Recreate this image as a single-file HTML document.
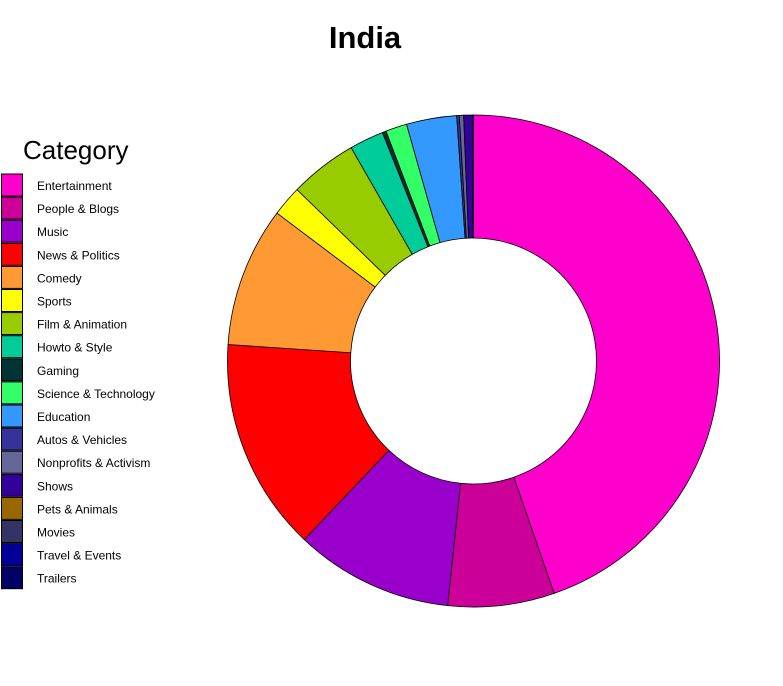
<!DOCTYPE html>
<html><head><meta charset="utf-8"><style>
body{margin:0;background:#fff;font-family:"Liberation Sans",sans-serif;}
#wrap{position:relative;width:783px;height:686px;overflow:hidden;}
</style></head><body>
<div id="wrap">
<svg id="svg" width="783" height="686">
<text x="365" y="48" text-anchor="middle" font-size="31" font-weight="bold" fill="#000">India</text>
<text x="23" y="159" font-size="26" fill="#000">Category</text>
<g id="slices"></g>
<g id="legend"></g>
</svg>
</div>
<script>
const categories=["Entertainment","People & Blogs","Music","News & Politics","Comedy","Sports","Film & Animation","Howto & Style","Gaming","Science & Technology","Education","Autos & Vehicles","Nonprofits & Activism","Shows","Pets & Animals","Movies","Travel & Events","Trailers"];
const values=[44.7,7.0,10.4,14.0,9.2,2.0,4.45,2.25,0.25,1.4,3.3,0.17,0.28,0.6,0.01,0.01,0.01,0.01];
const colors=["#FF00CC","#CC0099","#9900CC","#FF0000","#FF9933","#FFFF00","#99CC00","#00CC99","#003333","#33FF66","#3399FF","#333399","#666699","#330099","#996600","#333366","#000099","#000066"];
const NS="http://www.w3.org/2000/svg";
const cx=473.5,cy=361,R=246,r=123;
const total=values.reduce((a,b)=>a+b,0);
function pt(a,rad){return [cx+rad*Math.sin(a),cy-rad*Math.cos(a)];}
const g=document.getElementById('slices');
let acc=0;
values.forEach((v,i)=>{
  const a0=acc/total*2*Math.PI; acc+=v; const a1=acc/total*2*Math.PI;
  const large=(a1-a0)>Math.PI?1:0;
  const p0=pt(a0,R),p1=pt(a1,R),q1=pt(a1,r),q0=pt(a0,r);
  const p=document.createElementNS(NS,'path');
  p.setAttribute('d',`M${p0[0]},${p0[1]}A${R},${R} 0 ${large} 1 ${p1[0]},${p1[1]}L${q1[0]},${q1[1]}A${r},${r} 0 ${large} 0 ${q0[0]},${q0[1]}Z`);
  p.setAttribute('fill',colors[i]);p.setAttribute('stroke','#000');p.setAttribute('stroke-width','0.8');
  
  
  g.appendChild(p);
});
const lg=document.getElementById('legend');
categories.forEach((c,i)=>{
  const y=174+i*23.1;
  const rc=document.createElementNS(NS,'rect');
  rc.setAttribute('x',1.5);rc.setAttribute('y',y);rc.setAttribute('width',21);rc.setAttribute('height',22);
  rc.setAttribute('fill',colors[i]);rc.setAttribute('stroke','#000');rc.setAttribute('stroke-width','1');
  
  
  lg.appendChild(rc);
  const t=document.createElementNS(NS,'text');
  t.setAttribute('x',37);t.setAttribute('y',y+16);t.setAttribute('font-size','12');t.setAttribute('fill','#000');
  t.textContent=c;
  
  
  lg.appendChild(t);
});
</script>
</body></html>
